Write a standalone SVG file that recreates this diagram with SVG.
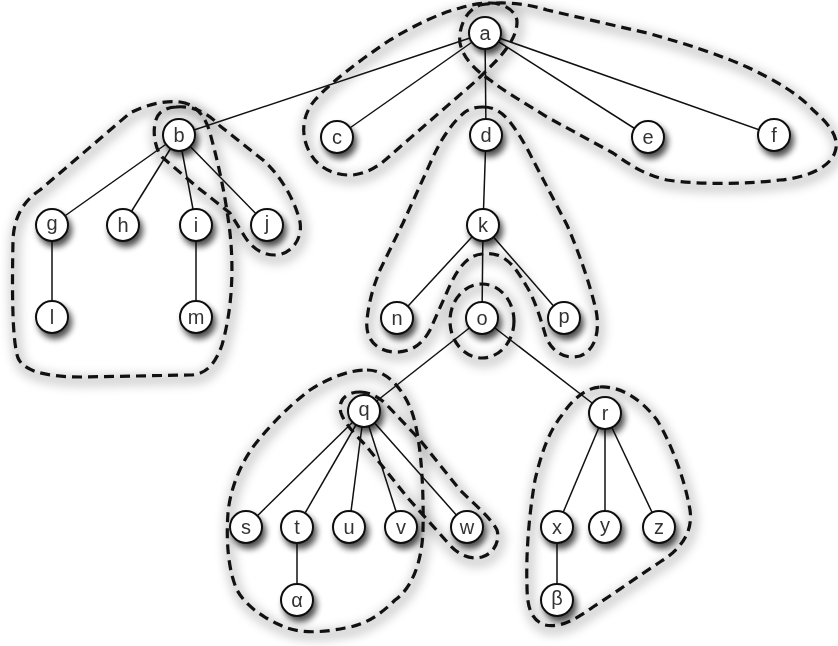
<svg xmlns="http://www.w3.org/2000/svg" xmlns:xlink="http://www.w3.org/1999/xlink" width="838" height="646" viewBox="0 0 838 646">
<style>
.edge{stroke:#111;stroke-width:1.5;fill:none}
.hull{fill:none;stroke:#111;stroke-width:3.2;stroke-dasharray:10 6;stroke-linejoin:round}
.halo{fill:none;stroke:#000;stroke-width:12;opacity:0.16}
.node circle{fill:#fff;stroke:#111;stroke-width:2}
.node text{font-family:"Liberation Sans","DejaVu Sans",sans-serif;font-size:20px;fill:#333;text-anchor:middle}
</style>
<defs>
<filter id="blur" x="-20%" y="-20%" width="140%" height="140%"><feGaussianBlur stdDeviation="5"/></filter>
<filter id="ns" x="-60%" y="-60%" width="220%" height="220%">
<feGaussianBlur in="SourceAlpha" stdDeviation="3"/>
<feOffset dx="3" dy="5" result="o"/>
<feComponentTransfer><feFuncA type="linear" slope="0.7"/></feComponentTransfer>
<feMerge><feMergeNode/><feMergeNode in="SourceGraphic"/></feMerge>
</filter>
<path id="hAEF" d="M480,5 C500,1 525,3 547,10 L647,33 C690,45 720,55 747,67 C775,80 800,95 813,110 C830,125 840,138 835,152 C830,168 805,178 780,180 C750,184 700,185 667,180 C645,175 630,165 613,153 L547,117 C525,103 505,92 490,80 C475,70 463,58 460,43 C458,28 466,10 480,5 Z"/>
<path id="hAC" d="M490,3 C505,3 517,12 517,22 C517,35 508,48 497,60 L477,80 L400,147 C385,160 375,172 353,175 C335,176 318,168 310,153 C300,135 302,115 315,100 C330,83 360,60 390,40 C415,25 440,13 460,8 C470,5 480,3 490,3 Z"/>
<path id="hD" d="M483,107 C494,107 502,112 510,122 C520,135 527,148 533,160 L567,225 C580,255 590,285 596,310 C600,330 596,350 580,356 C565,360 552,352 546,337 C541,320 535,300 527,287 C518,272 512,262 500,256 C490,252 478,253 470,258 C460,265 453,278 447,292 L430,330 C422,345 410,353 393,352 C375,350 365,338 367,320 C369,300 374,285 380,270 L403,223 L433,157 C443,135 455,120 465,112 C471,108 477,107 483,107 Z"/>
<ellipse id="hO" cx="482" cy="321" rx="32" ry="37"/>
<path id="hB" d="M180,102 C195,104 205,115 210,133 C216,155 225,190 230,233 C234,270 232,310 222,345 C215,365 205,375 190,375 L83,377 C55,377 25,374 18,358 C12,340 12,290 13,240 C14,215 25,200 40,190 L130,113 C145,105 165,100 180,102 Z"/>
<path id="hBj" d="M176,107 C195,105 210,115 220,126 L263,160 C280,175 295,200 300,222 C303,240 290,255 275,255 C262,255 252,248 245,237 L230,213 L197,187 L162,157 C152,145 152,120 160,113 C165,109 170,107 176,107 Z"/>
<path id="hQ" d="M367,370 C385,370 400,385 410,407 C420,430 424,480 423,530 C422,565 410,590 395,600 C380,615 365,625 345,628 C325,632 300,635 280,625 C262,617 245,605 237,590 C228,570 226,540 228,513 C230,490 240,465 253,447 C270,425 290,405 310,390 C330,377 350,370 367,370 Z"/>
<path id="hQw" d="M360,392 C370,392 378,397 385,403 L420,440 L460,490 C475,505 490,517 497,530 C500,540 495,553 482,557 C470,560 458,555 448,543 L407,497 L367,447 C358,437 345,425 341,413 C337,400 347,392 360,392 Z"/>
<path id="hR" d="M600,387 C620,386 640,398 657,420 C672,445 685,480 690,510 C693,530 683,548 660,562 C640,575 615,593 593,607 C575,620 560,628 545,625 C530,620 527,605 527,585 C526,560 528,520 535,480 C542,450 550,430 562,415 C572,400 585,388 600,387 Z"/>
</defs>
<g id="hull-shadows" filter="url(#blur)" transform="translate(2,4)">
<use xlink:href="#hAEF" class="halo"/>
<use xlink:href="#hAC" class="halo"/>
<use xlink:href="#hD" class="halo"/>
<use xlink:href="#hO" class="halo"/>
<use xlink:href="#hB" class="halo"/>
<use xlink:href="#hBj" class="halo"/>
<use xlink:href="#hQ" class="halo"/>
<use xlink:href="#hQw" class="halo"/>
<use xlink:href="#hR" class="halo"/>
</g>
<g id="connectors">
<line class="edge" x1="485" y1="33" x2="179" y2="135"/>
<line class="edge" x1="485" y1="33" x2="337" y2="137"/>
<line class="edge" x1="485" y1="33" x2="486" y2="135"/>
<line class="edge" x1="485" y1="33" x2="648" y2="137"/>
<line class="edge" x1="485" y1="33" x2="774" y2="135"/>
<line class="edge" x1="179" y1="135" x2="52" y2="225"/>
<line class="edge" x1="179" y1="135" x2="123" y2="225"/>
<line class="edge" x1="179" y1="135" x2="196" y2="225"/>
<line class="edge" x1="179" y1="135" x2="267" y2="225"/>
<line class="edge" x1="52" y1="225" x2="52" y2="317"/>
<line class="edge" x1="196" y1="225" x2="196" y2="317"/>
<line class="edge" x1="486" y1="135" x2="483" y2="225"/>
<line class="edge" x1="483" y1="225" x2="397" y2="318"/>
<line class="edge" x1="483" y1="225" x2="482" y2="318"/>
<line class="edge" x1="483" y1="225" x2="564" y2="318"/>
<line class="edge" x1="482" y1="318" x2="364" y2="411"/>
<line class="edge" x1="482" y1="318" x2="605" y2="413"/>
<line class="edge" x1="364" y1="411" x2="246" y2="527"/>
<line class="edge" x1="364" y1="411" x2="297" y2="527"/>
<line class="edge" x1="364" y1="411" x2="349" y2="527"/>
<line class="edge" x1="364" y1="411" x2="401" y2="527"/>
<line class="edge" x1="364" y1="411" x2="467" y2="527"/>
<line class="edge" x1="297" y1="527" x2="297" y2="600"/>
<line class="edge" x1="605" y1="413" x2="557" y2="527"/>
<line class="edge" x1="605" y1="413" x2="605" y2="527"/>
<line class="edge" x1="605" y1="413" x2="659" y2="527"/>
<line class="edge" x1="557" y1="527" x2="557" y2="600"/>
</g>
<g id="hulls">
<use xlink:href="#hAEF" class="hull"/>
<use xlink:href="#hAC" class="hull"/>
<use xlink:href="#hD" class="hull"/>
<use xlink:href="#hO" class="hull"/>
<use xlink:href="#hB" class="hull"/>
<use xlink:href="#hBj" class="hull"/>
<use xlink:href="#hQ" class="hull"/>
<use xlink:href="#hQw" class="hull"/>
<use xlink:href="#hR" class="hull"/>
</g>
<g id="nodes" filter="url(#ns)">
<g id="n-a" class="node"><circle cx="485" cy="33" r="16"/><text x="485" y="40">a</text></g>
<g id="n-b" class="node"><circle cx="179" cy="135" r="16"/><text x="179" y="142">b</text></g>
<g id="n-c" class="node"><circle cx="337" cy="137" r="16"/><text x="337" y="144">c</text></g>
<g id="n-d" class="node"><circle cx="486" cy="135" r="16"/><text x="486" y="142">d</text></g>
<g id="n-e" class="node"><circle cx="648" cy="137" r="16"/><text x="648" y="144">e</text></g>
<g id="n-f" class="node"><circle cx="774" cy="135" r="16"/><text x="774" y="142">f</text></g>
<g id="n-g" class="node"><circle cx="52" cy="225" r="16"/><text x="52" y="230">g</text></g>
<g id="n-h" class="node"><circle cx="123" cy="225" r="16"/><text x="123" y="232">h</text></g>
<g id="n-i" class="node"><circle cx="196" cy="225" r="16"/><text x="196" y="232">i</text></g>
<g id="n-j" class="node"><circle cx="267" cy="225" r="16"/><text x="267" y="230">j</text></g>
<g id="n-l" class="node"><circle cx="52" cy="317" r="16"/><text x="52" y="324">l</text></g>
<g id="n-m" class="node"><circle cx="196" cy="317" r="16"/><text x="196" y="324">m</text></g>
<g id="n-k" class="node"><circle cx="483" cy="225" r="16"/><text x="483" y="232">k</text></g>
<g id="n-n" class="node"><circle cx="397" cy="318" r="16"/><text x="397" y="325">n</text></g>
<g id="n-o" class="node"><circle cx="482" cy="318" r="16"/><text x="482" y="325">o</text></g>
<g id="n-p" class="node"><circle cx="564" cy="318" r="16"/><text x="564" y="323">p</text></g>
<g id="n-q" class="node"><circle cx="364" cy="411" r="16"/><text x="364" y="416">q</text></g>
<g id="n-r" class="node"><circle cx="605" cy="413" r="16"/><text x="605" y="420">r</text></g>
<g id="n-s" class="node"><circle cx="246" cy="527" r="16"/><text x="246" y="534">s</text></g>
<g id="n-t" class="node"><circle cx="297" cy="527" r="16"/><text x="297" y="534">t</text></g>
<g id="n-u" class="node"><circle cx="349" cy="527" r="16"/><text x="349" y="534">u</text></g>
<g id="n-v" class="node"><circle cx="401" cy="527" r="16"/><text x="401" y="534">v</text></g>
<g id="n-w" class="node"><circle cx="467" cy="527" r="16"/><text x="467" y="534">w</text></g>
<g id="n-x" class="node"><circle cx="557" cy="527" r="16"/><text x="557" y="534">x</text></g>
<g id="n-y" class="node"><circle cx="605" cy="527" r="16"/><text x="605" y="532">y</text></g>
<g id="n-z" class="node"><circle cx="659" cy="527" r="16"/><text x="659" y="534">z</text></g>
<g id="n-alpha" class="node"><circle cx="297" cy="600" r="16"/><text x="297" y="607">α</text></g>
<g id="n-beta" class="node"><circle cx="557" cy="600" r="16"/><text x="557" y="605">β</text></g>
</g>
</svg>
